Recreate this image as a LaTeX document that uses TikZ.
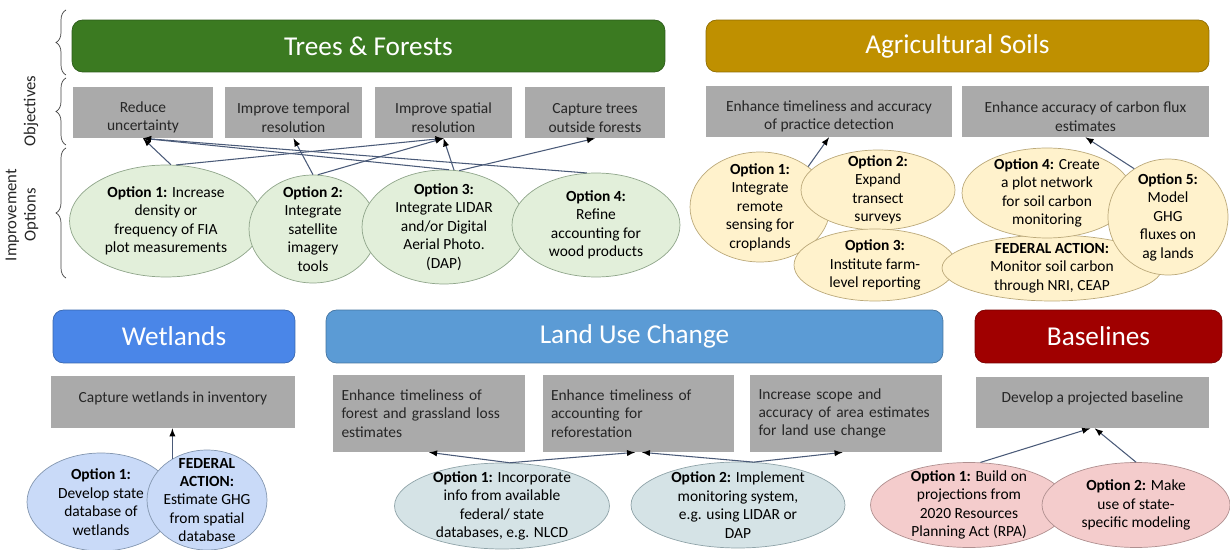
\documentclass[tikz,border=0pt]{standalone}
\usepackage{fontspec}
\setmainfont{Carlito}
\usetikzlibrary{shapes.geometric,arrows,decorations.pathreplacing}
\definecolor{treegreen}{HTML}{3B7A21}
\definecolor{soilgold}{HTML}{BF9000}
\definecolor{wetblue}{HTML}{4A86E8}
\definecolor{lucblue}{HTML}{5B9BD5}
\definecolor{basered}{HTML}{A00000}
\definecolor{objgray}{HTML}{AAAAAA}
\definecolor{txtgray}{HTML}{262626}
\definecolor{treefill}{HTML}{E2EFDA}
\definecolor{treeline}{HTML}{8FA58A}
\definecolor{soilfill}{HTML}{FFF2CC}
\definecolor{soilline}{HTML}{BBA97A}
\definecolor{wetfill}{HTML}{C9DAF8}
\definecolor{wetline}{HTML}{8497B0}
\definecolor{lucfill}{HTML}{D5E3E6}
\definecolor{lucline}{HTML}{8FA3A8}
\definecolor{basefill}{HTML}{F4CCCC}
\definecolor{baseline}{HTML}{B09090}
\definecolor{arrowc}{HTML}{4A5A78}
\newcommand{\opt}[1]{\textbf{#1}}
\newcommand{\lowtxt}{\rule{0pt}{12pt}}
\newcommand{\hightxt}{\rule[-6pt]{0pt}{6pt}}

\begin{document}
\begin{tikzpicture}[x=0.02cm,y=-0.02cm,
          hd/.style={rounded corners=6pt,fill=#1,draw=#1!75!black,text=white,
            font=\fontsize{15.5}{18}\selectfont,minimum height=1.04cm},
          obj/.style={fill=objgray,text=txtgray,align=center,inner sep=0pt,
            font=\fontsize{8.8}{10.4}\selectfont,minimum height=1.02cm},
          objl/.style={obj,align=left,text width=3.5cm,inner xsep=0.17cm,minimum height=1.54cm},
          opt/.style 2 args={ellipse,fill=#1,draw=#2,align=center,inner sep=-0.3cm,
            font=\fontsize{8.8}{10.5}\selectfont},
          side/.style={rotate=90,align=center,text=txtgray,font=\fontsize{9.5}{11}\selectfont},
          br/.style={draw=black!75,decorate,decoration={brace,amplitude=0.2cm}},
          link/.style={draw=arrowc,line width=0.6pt}
            ]
    \useasboundingbox (0,0) rectangle (1230,550);
    % side braces
    \draw[br] (66,75) -- (66,10);
    \draw[br] (66,145) -- (66,78);
    \draw[br] (66,278) -- (66,148);
    \node[side] (lobj) at (31,111) {Objectives};
    \node[side] (limp) at (22,215) {Improvement\\Options};

    % headers
    \node[hd=treegreen,minimum width=11.86cm] (tf) at (368.5,46) {Trees \& Forests};
    \node[hd=soilgold,minimum width=10.06cm] (as) at (957.5,46) {Agricultural Soils};
    \node[hd=wetblue,minimum width=4.84cm,minimum height=1.06cm] (wl) at (174,336.5) {Wetlands};
    \node[hd=lucblue,minimum width=12.34cm,minimum height=1.06cm] (lu) at (634.5,336.5) {Land Use Change};
    \node[hd=basered,minimum width=4.94cm,minimum height=1.06cm] (bl) at (1098.5,336.5) {Baselines};

    % objectives
    \node[obj,minimum width=2.8cm] (to1) at (143,112.5) {\lowtxt Reduce\\uncertainty};
    \node[obj,minimum width=2.74cm] (to2) at (293.5,112.5) {\lowtxt Improve temporal\\resolution};
    \node[obj,minimum width=2.74cm] (to3) at (443.5,112.5) {\lowtxt Improve spatial\\resolution};
    \node[obj,minimum width=2.8cm] (to4) at (595,112.5) {\lowtxt Capture trees\\outside forests};
    \node[obj,minimum width=4.92cm] (ao1) at (829,111.5) {\lowtxt Enhance timeliness and accuracy\\of practice detection};
    \node[obj,minimum width=4.94cm] (ao2) at (1085.5,111.5) {\lowtxt Enhance accuracy of carbon flux\\estimates};
    \node[obj,minimum width=4.88cm,minimum height=1.04cm] (wo1) at (173,402) {\hightxt Capture wetlands in inventory};
    \node[objl] (lo1) at (429,413.5) {Enhance timeliness of\\forest and grassland loss\\estimates};
    \node[objl] (lo2) at (638.5,413.5) {Enhance timeliness of\\accounting for\\reforestation};
    \node[objl] (lo3) at (846,413.5) {Increase scope and\\accuracy of area estimates\\for land use change};
    \node[obj,minimum width=4.66cm] (bo1) at (1092.5,402.5) {\hightxt Develop a projected baseline};

    % trees & forests options
    \node[opt={treefill}{treeline},minimum width=3.86cm,minimum height=2.24cm] (t1) at (166,221)
        {\opt{Option 1:} Increase\\density or\\frequency of FIA\\plot measurements};
    \node[opt={treefill}{treeline},minimum width=2.56cm,minimum height=2.16cm] (t2) at (313,229)
        {\opt{Option 2:}\\Integrate\\satellite\\imagery\\tools};
    \node[opt={treefill}{treeline},minimum width=3.28cm,minimum height=2.28cm] (t3) at (444,227)
        {\opt{Option 3:}\\Integrate LIDAR\\and/or Digital\\Aerial Photo.\\(DAP)};
    \node[opt={treefill}{treeline},minimum width=3.36cm,minimum height=2.08cm] (t4) at (596,225)
        {\opt{Option 4:}\\Refine\\accounting for\\wood products};

    % agricultural soils options
    \node[opt={soilfill}{soilline},minimum width=2.8cm,minimum height=2.2cm] (a1) at (760,207)
        {\opt{Option 1:}\\Integrate\\remote\\sensing for\\croplands};
    \node[opt={soilfill}{soilline},minimum width=3.08cm,minimum height=1.6cm] (a2) at (878,190)
        {\opt{Option 2:}\\Expand\\transect\\surveys};
    \node[opt={soilfill}{soilline},minimum width=3.24cm,minimum height=1.44cm] (a3) at (875,265)
        {\opt{Option 3:}\\Institute farm-\\level reporting};
    \node[opt={soilfill}{soilline},minimum width=4.4cm,minimum height=1.32cm] (af) at (1052,268)
        {\opt{FEDERAL ACTION:}\\Monitor soil carbon\\through NRI, CEAP};
    \node[opt={soilfill}{soilline},minimum width=3.4cm,minimum height=1.8cm] (a4) at (1047,193)
        {\opt{Option 4:} Create\\a plot network\\for soil carbon\\monitoring};
    \node[opt={soilfill}{soilline},minimum width=2.4cm,minimum height=2.32cm] (a5) at (1168,217)
        {\opt{Option 5:}\\Model\\GHG\\fluxes on\\ag lands};

    % wetlands options
    \node[opt={wetfill}{wetline},minimum width=2.96cm,minimum height=1.96cm] (w1) at (101,502)
        {\opt{Option 1:}\\Develop state\\database of\\wetlands};
    \node[opt={wetfill}{wetline},minimum width=2.4cm,minimum height=2cm] (wf) at (207,500)
        {\opt{FEDERAL}\\\opt{ACTION:}\\Estimate GHG\\from spatial\\database};

    % land use change options
    \node[opt={lucfill}{lucline},minimum width=4.3cm,minimum height=1.72cm] (l1) at (502,506)
        {\opt{Option 1:} Incorporate\\info from available\\federal/ state\\databases, e.g. NLCD};
    \node[opt={lucfill}{lucline},minimum width=4.28cm,minimum height=1.72cm] (l2) at (738,505)
        {\opt{Option 2:} Implement\\monitoring system,\\e.g. using LIDAR or\\DAP};

    % baseline options
    \node[opt={basefill}{baseline},minimum width=3.94cm,minimum height=1.7cm] (b1) at (969,505)
        {\opt{Option 1:} Build on\\projections from\\2020 Resources\\Planning Act (RPA)};
    \node[opt={basefill}{baseline},minimum width=3.76cm,minimum height=1.7cm] (b2) at (1136,505)
        {\opt{Option 2:} Make\\use of state-\\specific modeling};

    % links
    \path[link] (t1.85) edge[-latex] (to1.south)
      (t1.80) edge[-latex] (to3.south)
      (t2.north) edge[-latex] (to2.south)
      (t2.85) edge[-latex] (to3.south)
      (t3.80) edge[-latex] (to3.south)
      (t3.85) edge[-latex] (to1.south)
      (t3.75) edge[-latex] (to4.south)
      (t4.100) edge[-latex] (to1.south);
    \path[link] (a1.40) edge[-latex] (ao1.south)
      (a5.125) edge[-latex] (ao2.south);
    \path[link] (wf.130) edge[-latex] (wf.130 |- wo1.south);
    \path[link] (l1.80) edge[-latex] (lo1.south)
      (l1.80) edge[-latex] (lo2.-95)
      (l2.70) edge[-latex] (lo2.-85)
      (l2.70) edge[-latex] (lo3.-95);
    \path[link] (b1.75) edge[-latex] (bo1.-95)
      (b2.north) edge[-latex] (bo1.-85);
\end{tikzpicture}
\end{document}
